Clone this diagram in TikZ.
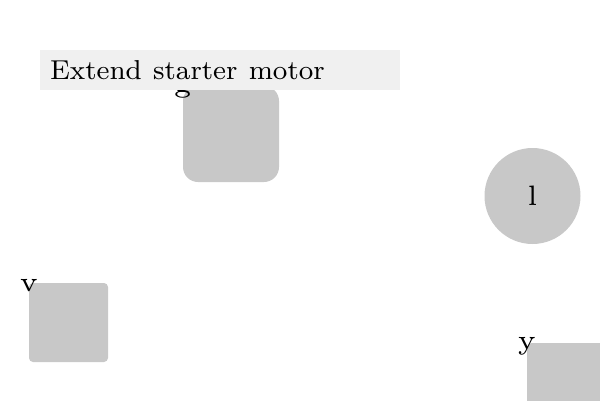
\documentclass[tikz,border=0pt]{standalone}
\usetikzlibrary{positioning}
\definecolor{shapegray}{HTML}{C8C8C8}
\definecolor{titlegray}{HTML}{F0F0F0}
\newcommand{\bigtxt}[3]{\scalebox{#2}{\fontsize{#1}{#1}\selectfont #3}}
\begin{document}
\begin{tikzpicture}[x=1pt,y=-1pt,
  shapebox/.style={fill=shapegray,draw=none,inner sep=0pt,rectangle},
  tag/.style={inner sep=0pt},
  titlebox/.style={fill=titlegray,draw=none,anchor=north west,inner xsep=10pt,inner ysep=0pt,
    minimum height=40pt,text width=340pt,align=left}]
\useasboundingbox (0,0) rectangle (600,400);
\node[shapebox,minimum size=96pt,rounded corners=15pt] (sqg) at (231,134) {};
\node[shapebox,minimum size=79pt,rounded corners=4pt] (sqv) at (68.5,322.5) {};
\node[shapebox,circle,minimum size=96pt] (cl) at (532.5,196) {\bigtxt{6}{4.68}{l}};
\node[shapebox,minimum size=80pt,rounded corners=4pt,anchor=north west] (sqy) at (527,343) {};
\node[tag,yshift=-3pt] (lg) at (sqg.north west) {\bigtxt{6}{4.68}{g}};
\node[tag,yshift=-3pt] (lv) at (sqv.north west) {\bigtxt{6}{4.68}{v}};
\node[tag,yshift=-3pt] (ly) at (sqy.north west) {\bigtxt{6}{4.68}{y}};
\node[titlebox] (title) at (40,50) {\bigtxt{8}{3.42}{Extend starter motor}};
\end{tikzpicture}
\end{document}
